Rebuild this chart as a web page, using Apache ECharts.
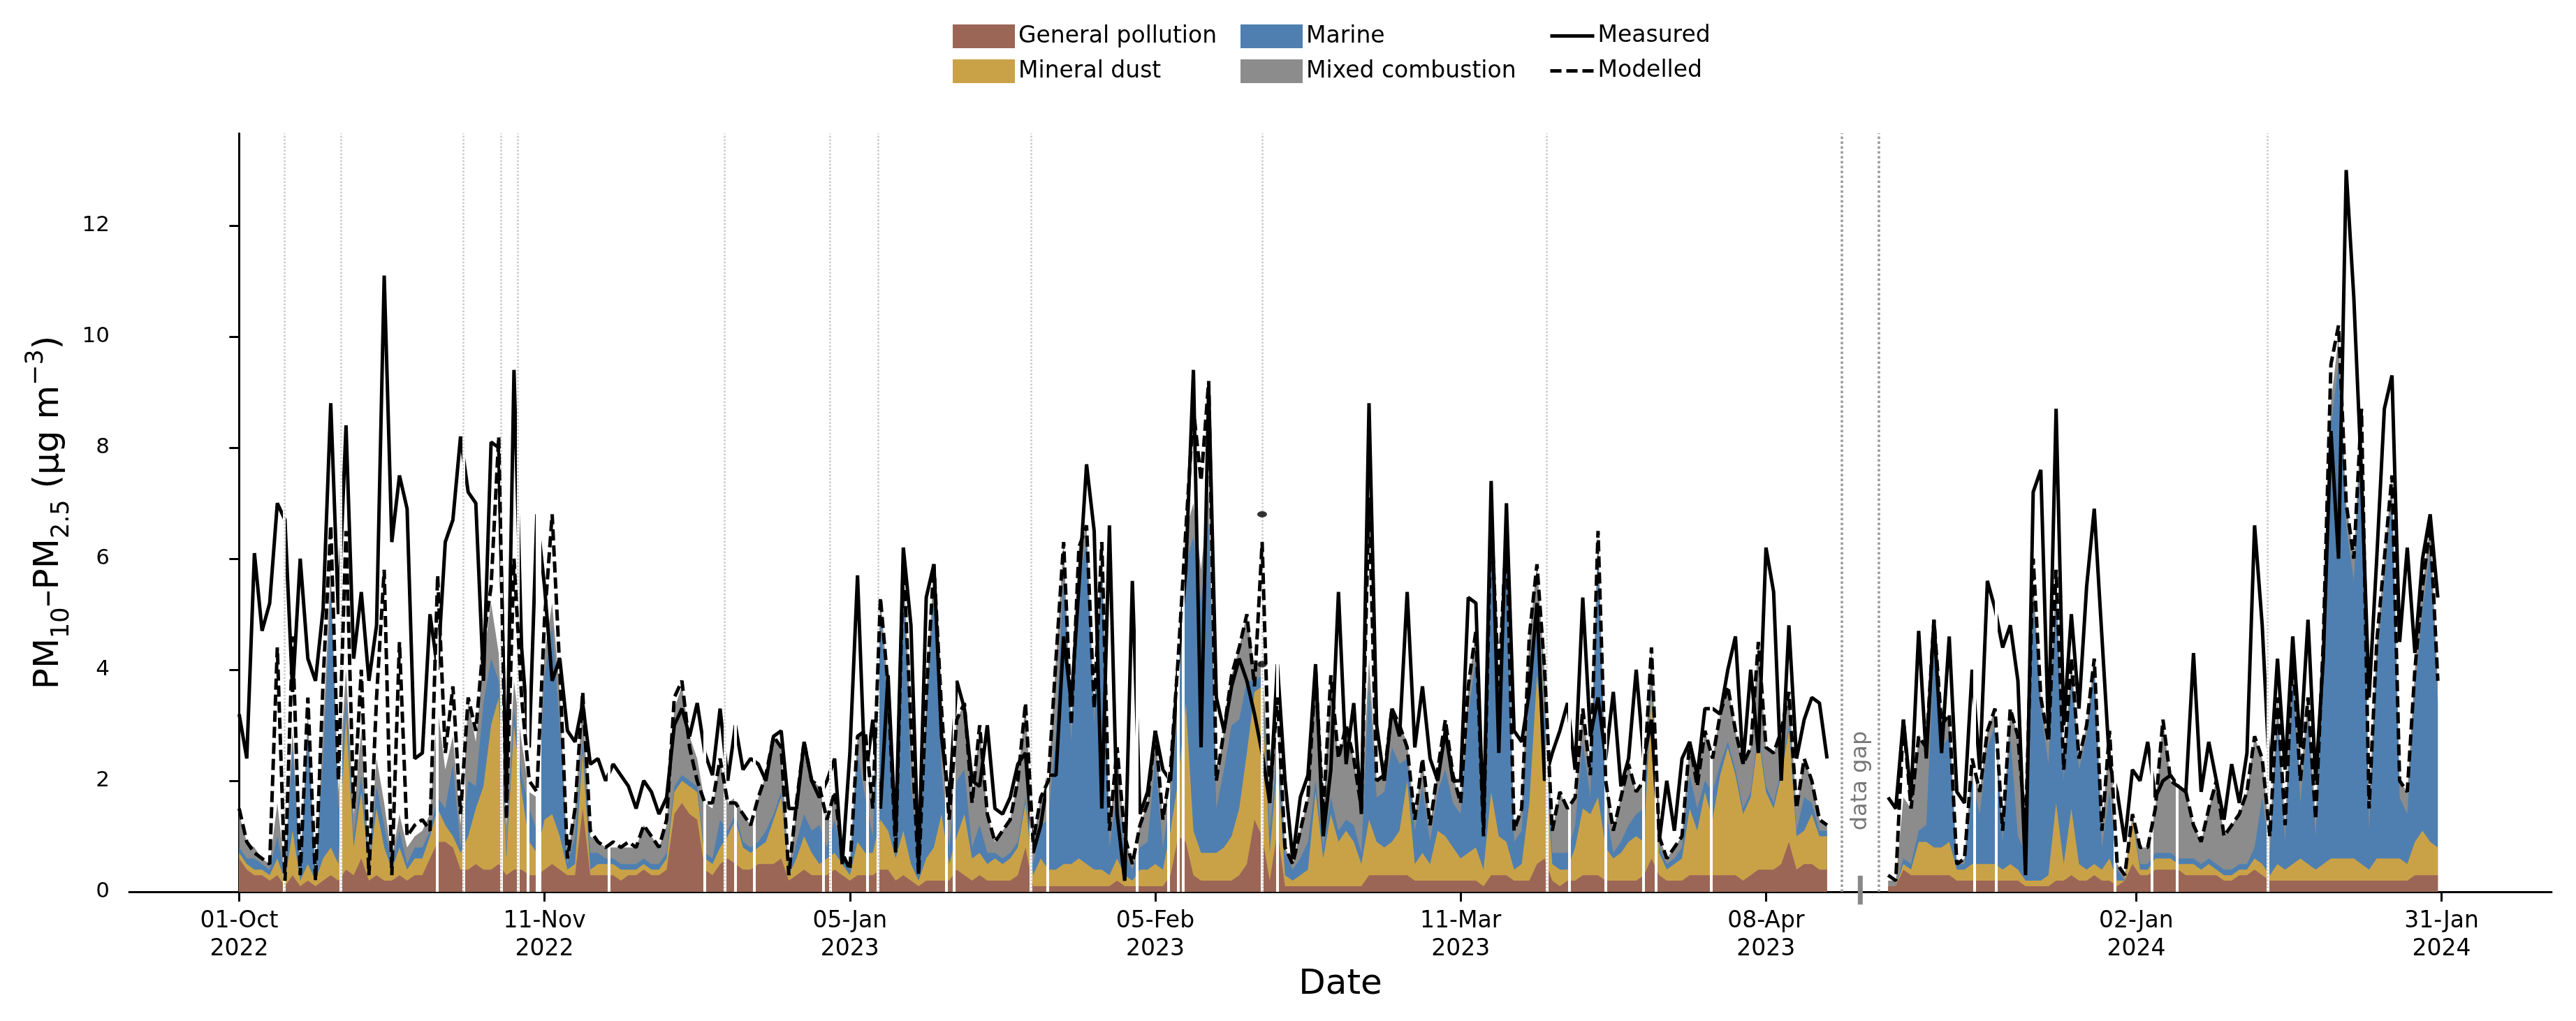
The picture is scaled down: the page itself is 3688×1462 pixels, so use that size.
<!DOCTYPE html>
<html><head><meta charset="utf-8">
<script src="https://cdn.jsdelivr.net/npm/echarts@6/dist/echarts.min.js"></script>
<style>html,body{margin:0;padding:0;background:#fff}#c{width:3688px;height:1462px}</style>
</head><body><div id="c"></div>
<script>
// ---- tick labels (x axis is a sample index with data gaps removed) ----
const tickPositions = [0, 40, 80, 120, 160, 200, 248.5, 288.5];
const tickLabels = ['01-Oct\n2022','11-Nov\n2022','05-Jan\n2023','05-Feb\n2023','11-Mar\n2023','08-Apr\n2023','02-Jan\n2024','31-Jan\n2024'];
const yTicks = [0, 2, 4, 6, 8, 10, 12];

// ---- series values (one value per sample) ----
const measured = [
3.2,2.4,6.1,4.7,5.2,7.0,6.7,3.6,6.0,4.2,
3.8,5.1,8.8,5.0,8.4,4.2,5.4,3.8,4.8,11.1,
6.3,7.5,6.9,2.4,2.5,5.0,4.0,6.3,6.7,8.2,
7.2,7.0,3.8,8.1,8.0,1.6,9.4,4.4,2.6,6.8,
5.5,3.8,4.2,2.9,2.7,3.4,2.3,2.4,2.0,2.3,
2.1,1.9,1.5,2.0,1.8,1.4,1.7,3.0,3.3,2.8,
3.4,2.5,2.1,3.3,2.0,3.0,2.2,2.4,2.3,2.0,
2.8,2.9,1.5,1.5,2.7,2.0,1.7,2.0,2.4,0.5,
2.5,5.7,2.0,3.1,1.5,3.9,1.0,6.2,4.8,0.5,
5.3,5.9,2.8,1.6,3.8,3.3,2.0,1.9,3.0,1.5,
1.4,1.7,2.3,2.5,0.7,1.2,2.1,2.1,4.6,3.4,
5.5,7.7,6.5,1.5,6.6,1.4,0.2,5.6,1.4,1.8,
2.9,2.2,2.0,4.1,5.8,9.4,2.6,9.1,3.5,2.9,
3.7,4.2,3.8,3.2,2.5,1.6,4.1,2.0,0.6,1.7,
2.1,4.1,1.0,2.2,5.4,2.3,3.4,1.4,8.8,3.0,
2.0,3.3,2.8,5.4,2.6,3.7,2.4,2.0,2.9,2.0,
2.0,5.3,5.2,1.2,7.4,2.5,7.0,2.9,2.7,3.6,
5.2,2.0,2.5,2.9,3.4,2.2,5.3,2.8,3.5,2.4,
3.6,1.9,2.4,4.0,2.4,3.1,0.9,2.0,1.1,2.4,
2.7,2.1,3.3,3.3,3.2,4.0,4.6,2.3,4.0,2.5,
6.2,5.4,2.0,4.8,2.4,3.1,3.5,3.4,2.4,null,
null,null,null,null,null,null,1.7,1.5,3.1,1.7,
4.7,2.4,4.9,2.5,4.6,1.8,1.6,4.0,2.2,5.6,
5.1,4.4,4.8,3.8,0.3,7.2,7.6,2.8,8.7,3.0,
5.0,3.3,5.5,6.9,4.6,2.3,1.8,0.9,2.2,2.0,
2.7,1.7,2.0,2.1,1.9,1.8,4.3,1.8,2.7,2.0,
1.3,2.3,1.6,2.5,6.6,4.8,2.0,4.2,2.2,4.6,
2.6,4.9,2.0,4.2,8.3,6.0,13.0,10.7,7.5,3.5,
6.0,8.7,9.3,4.5,6.2,4.3,6.0,6.8,5.3];

const modelled = [
1.5,0.9,0.7,0.6,0.5,4.4,0.2,4.6,0.3,3.5,
0.2,3.8,6.6,2.0,6.5,1.5,4.0,0.3,3.5,5.8,
0.3,4.5,1.0,1.2,1.3,1.1,5.7,2.5,3.7,1.4,
3.5,2.9,4.5,5.5,8.2,1.3,6.0,3.5,2.0,1.8,
4.9,6.8,4.0,0.6,1.5,3.6,1.1,0.9,0.8,0.9,
0.8,0.9,0.8,1.2,1.0,0.8,1.3,3.5,3.8,2.6,
2.0,1.6,1.6,2.4,1.6,1.6,1.4,1.2,1.7,2.1,
2.8,2.6,0.3,1.6,2.7,2.0,1.9,1.3,1.8,0.7,
0.4,2.8,2.9,1.5,5.3,3.7,0.7,6.0,3.0,0.3,
3.5,5.9,3.3,1.3,3.1,3.4,1.6,3.0,1.4,0.9,
1.1,1.3,2.0,3.4,0.9,1.7,2.0,4.2,6.3,3.0,
6.2,6.6,3.3,6.3,1.1,2.6,1.0,0.5,1.2,1.6,
2.9,1.3,2.2,4.2,6.5,8.7,7.4,9.2,2.0,2.9,
3.9,4.4,5.0,3.7,6.3,1.7,3.5,0.8,0.5,1.1,
1.7,4.0,1.4,3.9,2.4,3.0,2.4,1.5,7.1,2.0,
2.1,3.3,3.0,2.6,1.3,2.4,1.2,2.2,3.1,2.1,
1.6,3.7,4.7,1.0,6.8,3.7,6.5,1.1,1.5,4.6,
5.9,4.0,1.1,1.8,1.5,1.7,3.3,2.1,6.5,2.0,
1.1,1.7,2.3,1.8,2.0,4.4,1.0,0.6,0.8,1.0,
2.7,1.9,2.9,2.4,3.2,3.7,2.9,2.3,2.6,4.5,
2.6,2.5,2.9,3.6,1.5,2.4,2.0,1.3,1.2,null,
null,null,null,null,null,null,0.3,0.2,3.1,1.5,
2.8,2.6,4.9,3.0,3.2,0.5,0.6,2.4,1.8,2.9,
3.3,1.1,3.3,2.8,1.1,6.0,3.5,2.7,5.8,2.2,
4.2,2.4,3.0,4.2,1.1,2.9,0.5,0.3,1.4,0.8,
0.8,1.5,3.1,2.0,1.9,1.8,1.2,0.9,1.5,2.0,
1.0,1.2,1.4,1.8,2.8,2.4,1.0,3.5,1.2,4.3,
2.0,3.5,1.3,4.5,9.5,10.2,7.0,6.0,8.7,1.5,
4.5,6.0,7.5,2.0,1.8,4.0,5.5,6.6,3.8];

const generalPollution = [
.6,.4,.3,.3,.2,.3,.1,.3,.1,.2,
.1,.2,.3,.2,.4,.3,.6,.2,.3,.2,
.2,.3,.2,.3,.3,.6,.9,.9,.8,.4,
.4,.5,.4,.4,.5,.3,.4,.4,.3,.3,
.4,.5,.4,.3,.3,1.5,.3,.3,.3,.3,
.2,.3,.3,.4,.3,.3,.4,1.4,1.6,1.4,
1.3,.4,.3,.5,.6,.5,.4,.4,.5,.5,
.5,.6,.2,.3,.4,.3,.3,.3,.4,.3,
.2,.3,.3,.3,.4,.4,.2,.3,.2,.1,
.2,.2,.2,.2,.4,.3,.2,.3,.2,.2,
.2,.2,.3,.8,.1,.1,.1,.1,.1,.1,
.1,.1,.1,.1,.1,.2,.1,.1,.1,.1,
.1,.1,.3,1.0,.9,.3,.2,.2,.2,.2,
.2,.3,.5,1.3,1.0,.2,1.1,.1,.1,.1,
.1,.1,.1,.1,.1,.1,.1,.1,.3,.3,
.3,.3,.3,.3,.2,.2,.2,.2,.2,.2,
.2,.2,.2,.1,.3,.3,.3,.2,.2,.2,
.5,.6,.2,.1,.2,.2,.3,.3,.3,.2,
.2,.2,.2,.2,.3,.6,.3,.2,.2,.2,
.3,.3,.3,.3,.3,.3,.3,.2,.3,.4,
.4,.4,.5,.9,.4,.5,.5,.4,.4,null,
null,null,null,null,null,null,.1,.1,.4,.3,
.3,.3,.3,.3,.3,.2,.2,.2,.2,.2,
.2,.2,.2,.2,.1,.1,.1,.1,.2,.2,
.3,.2,.2,.3,.2,.2,.1,.2,.5,.3,
.3,.4,.4,.4,.4,.3,.3,.3,.3,.3,
.2,.2,.3,.3,.4,.3,.2,.2,.2,.2,
.2,.2,.2,.2,.2,.2,.2,.2,.2,.2,
.2,.2,.2,.2,.2,.3,.3,.3,.3];

const mineralDust = [
.1,.1,.1,.1,.1,.3,.1,.8,.1,.3,
.1,.4,.5,.3,2.8,.5,1.2,.2,1.2,.6,
.2,.5,.2,.3,.3,.4,.6,.3,.2,.3,
.6,1.0,1.5,2.6,3.0,.3,2.6,1.4,.6,.4,
.9,.9,.6,.1,.2,1.0,.1,.2,.2,.2,
.2,.1,.1,.1,.1,.1,.2,.4,.4,.5,
.5,.2,.2,.3,.4,.8,.4,.3,.3,.4,
.8,1.1,.1,.3,.6,.4,.2,.3,.3,.2,
.1,.6,.4,.4,.9,.7,.4,.8,.3,.1,
.4,.6,1.2,.3,.6,1.1,.4,.4,.3,.4,
.3,.4,.5,.8,.2,.5,.3,.3,.4,.4,
.5,.4,.3,.3,.2,.4,.2,.1,.3,.3,
.4,.3,.8,1.0,2.5,.8,.5,.5,.5,.6,
.8,1.2,2.0,2.3,2.7,.5,1.2,.2,.1,.2,
.3,1.7,.5,1.3,.8,1.0,.8,.4,1.0,.6,
.5,.6,.8,1.7,.3,.5,.3,.9,.8,.6,
.4,.5,.6,.3,1.5,.7,.6,.2,.3,1.4,
3.4,2.0,.3,.3,.2,.6,1.2,1.1,1.4,.6,
.4,.5,.7,.8,.6,3.0,.4,.2,.3,.4,
1.2,.8,1.5,1.0,1.8,2.3,1.8,1.2,1.4,2.4,
1.4,1.1,1.6,2.0,.6,.6,.9,.6,.6,null,
null,null,null,null,null,null,0,0,.1,.1,
.6,.6,.5,.5,.6,.2,.2,.3,.3,.3,
.3,.2,.3,.2,.1,.1,.1,.2,1.4,.3,
1.2,.3,.2,.2,.2,.4,.1,0,.8,.1,
.1,.2,.2,.2,.1,.2,.2,.1,.2,.1,
.1,.1,.1,.1,.2,.2,.1,.3,.2,.3,
.4,.3,.2,.3,.4,.4,.4,.4,.3,.2,
.4,.4,.4,.4,.3,.6,.8,.6,.5];

const marine = [
.1,.1,.2,.1,.1,.4,.1,1.5,.2,2.3,
.1,1.8,4.6,1.0,.3,.2,.3,.1,.4,.4,
.1,.3,.1,.2,.2,.1,.2,.3,1.3,.1,
1.0,.4,1.5,1.2,.3,.1,.3,.3,.6,.4,
2.6,3.4,2.0,.1,.5,.2,.3,.2,.1,.1,
.1,.1,.1,.1,.1,.1,.1,.1,.1,.1,
.1,.1,.1,.5,.1,.1,.1,.1,.1,.2,
.1,.1,0,.3,.4,.4,.7,.2,.6,.1,
.1,1.6,1.0,.3,3.6,2.2,.1,4.5,1.5,.1,
2.5,4.6,.8,.3,1.0,.8,.2,.5,.2,.1,
.1,.1,.1,.1,.2,.6,.9,2.5,5.2,2.2,
5.0,5.8,2.6,5.5,.5,1.2,.4,.2,.4,.5,
1.9,.4,.6,1.2,2.5,5.3,4.5,6.0,.8,1.4,
2.0,1.6,1.3,.2,.2,.4,.2,.4,.2,.3,
.5,.2,.2,.3,.2,.2,.3,.2,2.4,.8,
1.0,1.7,1.2,.4,.6,1.2,.4,.7,1.2,.8,
.8,2.5,3.4,.5,4.5,2.3,5.1,.5,.6,2.0,
.8,.6,.2,.3,.3,.4,1.2,.3,4.4,.7,
.1,.2,.3,.4,.6,.1,.1,.1,.1,.2,
.6,.4,.2,.5,.2,.1,.1,.1,.1,.1,
.1,.1,.1,.1,.1,.6,.2,.1,.1,null,
null,null,null,null,null,null,0,0,.1,.1,
.2,.3,3.5,1.8,1.9,.1,.1,1.5,.9,2.1,
2.5,.5,2.3,.6,.5,5.0,3.1,2.0,3.8,1.5,
2.4,1.7,2.4,3.5,.4,1.2,.2,0,0,.1,
.1,.1,.1,.1,.1,.1,.1,.1,.1,.1,
.1,.1,.1,.1,.2,1.2,.4,2.6,.5,3.4,
1.0,2.6,.6,3.6,7.8,8.9,6.0,5.0,7.8,.7,
3.5,5.0,6.5,1.1,.9,2.7,4.0,5.2,2.6];

const mixedCombustion = [
.6,.3,.2,.1,.1,.6,.1,.3,0,.4,
0,.5,.4,.3,.5,.4,.8,.1,.5,.4,
.1,.3,.3,.2,.3,.3,1.6,.7,.5,.4,
1.4,.8,.8,1.0,.5,.5,.5,.6,.3,.6,
.4,.4,.6,.1,.5,.7,.3,.2,.2,.2,
.3,.3,.3,.6,.5,.3,.5,1.4,1.6,.8,
.5,.9,.9,1.1,.5,.3,.5,.4,.8,1.0,
1.4,.8,.1,.6,1.3,.9,.7,.5,.5,.1,
.1,.3,1.2,.5,.4,.4,0,.4,1.0,0,
.4,.5,1.1,.5,1.1,1.2,.8,1.8,.7,.2,
.5,.6,1.1,1.7,.4,.5,.7,1.3,.6,.3,
.6,.3,.3,.4,.3,.8,.3,.1,.4,.7,
.5,.5,.5,1.0,.6,.6,.6,.5,.5,.7,
.9,1.3,1.2,.2,.3,.6,1.0,.1,.1,.5,
.8,2.0,.6,2.2,1.3,1.7,1.2,.8,.5,.3,
.3,.7,.7,.3,.2,.5,.3,.4,.9,.5,
.2,.5,.5,.1,.5,.4,.5,.2,.4,1.0,
1.2,.8,.4,1.1,.8,.5,.6,.4,.4,.5,
.4,.8,1.1,.4,.5,.7,.2,.1,.2,.2,
.6,.4,.9,.6,.9,1.0,.7,.8,.8,1.6,
.7,.9,.7,.6,.4,.7,.4,.2,.1,null,
null,null,null,null,null,null,.1,.1,1.1,1.0,
1.7,1.4,.6,.4,.4,0,.1,.4,.4,.3,
.3,.2,.5,1.8,.4,.4,.2,.4,.4,.2,
.3,.2,.2,.2,.3,1.1,.1,.1,.1,.3,
.3,.8,2.4,1.3,1.3,1.2,.6,.4,.9,1.5,
.6,.8,.9,1.3,2.0,.7,.3,.4,.3,.4,
.4,.4,.3,.4,.4,.5,.4,.4,.4,.4,
.4,.4,.4,.3,.4,.4,.4,.5,.4];

// isolated measured points (sample index, value)
const isolatedX = [134, 134];
const isolatedY = [6.8, 4.1];
// segment boundaries (sample index) drawn as light dotted lines
const segmentBreaks = [5.9, 13.3, 29.4, 34.3, 36.5, 63.6, 77.4, 83.7, 103.7, 134.0, 171.3, 265.7];
// missing samples inside the stacked contributions (white slivers)
const stackGaps = [25.9, 37.8, 39.0, 39.4, 48.4, 61.0, 65.0, 67.5, 76.5, 82.3, 92.6, 93.6, 105.9, 117.6, 121.7, 123.0, 123.6, 136.0, 174.2, 179.0, 183.9, 185.6, 192.8, 227.3, 230.1, 245.7, 250.5, 253.8];
// bounds of the long data gap
const gapBounds = [209.9, 214.8];

const N = measured.length;
[modelled, generalPollution, mineralDust, marine, mixedCombustion].forEach((a, k) => {
  if (a.length !== N) throw new Error('length mismatch in array ' + k + ': ' + a.length + ' vs ' + N);
});

const FONT = 'DejaVu Sans';
const LW = 5;
const DASH = [16, 7];
const toXY = arr => arr.map((v, i) => [i, v]);
const comps = [
  ['General pollution', generalPollution, '#9b6656'],
  ['Mineral dust', mineralDust, '#c9a248'],
  ['Marine', marine, '#4e7fb0'],
  ['Mixed combustion', mixedCombustion, '#8c8c8c']
];
// cumulative tops of the stacked contributions (stack order: bottom -> top)
const cumulative = [];
comps.forEach(([, arr], k) => {
  cumulative.push(arr.map((v, i) => v == null ? null : (k ? cumulative[k - 1][i] : 0) + v));
});

const series = [];
// draw the highest band first, each filled down to zero, so the lower ones sit on top
for (let k = comps.length - 1; k >= 0; k--) {
  const [name, , color] = comps[k];
  series.push({
    name, type: 'line', data: toXY(cumulative[k].map(v => v == null ? null : +v.toFixed(3))),
    symbol: 'none', silent: true, z: 1,
    lineStyle: { width: 0, color }, itemStyle: { color }, areaStyle: { color, opacity: 1, origin: 'start' }
  });
}
series.push({
  type: 'line', data: [], z: 2, silent: true,
  markLine: { silent: true, symbol: ['none', 'none'], label: { show: false }, animation: false,
    lineStyle: { color: '#ffffff', width: 4, type: 'solid' },
    data: stackGaps.concat(segmentBreaks).map(x => ({ xAxis: x })) }
});
series.push({
  type: 'line', data: [], z: 3, silent: true,
  markLine: { silent: true, symbol: ['none', 'none'], label: { show: false }, animation: false,
    data: segmentBreaks.map(x => ({ xAxis: x, lineStyle: { color: '#c8c8c8', width: 2.5, type: 'dotted' } }))
      .concat(gapBounds.map(x => ({ xAxis: x, lineStyle: { color: '#9a9a9a', width: 3.5, type: 'dotted' } }))) }
});
series.push({
  name: 'Measured', type: 'line', data: toXY(measured), symbol: 'none', z: 4,
  lineStyle: { color: '#000', width: LW }, itemStyle: { color: '#000' }
});
series.push({
  name: 'Modelled', type: 'line', data: toXY(modelled), symbol: 'none', z: 5,
  lineStyle: { color: '#000', width: LW, type: DASH }, itemStyle: { color: '#000' }
});
series.push({
  name: 'Measured points', type: 'scatter', data: isolatedX.map((x, i) => [x, isolatedY[i]]),
  symbol: 'circle', symbolSize: [14, 9], itemStyle: { color: '#000' }, z: 5
});

const legBase = { orient: 'horizontal', padding: 0, itemGap: 0, selectedMode: false,
  textStyle: { fontSize: 33, color: '#000', fontFamily: FONT } };
const hiddenSymbol = { color: 'rgba(0,0,0,0)', borderWidth: 0, opacity: 0 };
const legends = [
  { left: 1364, top: 35, itemWidth: 89, itemHeight: 34, data: [{ name: 'General pollution', icon: 'rect' }] },
  { left: 1364, top: 85, itemWidth: 89, itemHeight: 34, data: [{ name: 'Mineral dust', icon: 'rect' }] },
  { left: 1776, top: 35, itemWidth: 89, itemHeight: 34, data: [{ name: 'Marine', icon: 'rect' }] },
  { left: 1776, top: 85, itemWidth: 89, itemHeight: 34, data: [{ name: 'Mixed combustion', icon: 'rect' }] },
  { left: 2217, top: 35, itemWidth: 63, itemHeight: 34, data: [{ name: 'Measured' }],
    itemStyle: hiddenSymbol, lineStyle: { color: '#000', width: LW, type: 'solid', opacity: 1 } },
  { left: 2217, top: 85, itemWidth: 63, itemHeight: 34, data: [{ name: 'Modelled' }],
    itemStyle: hiddenSymbol, lineStyle: { color: '#000', width: LW, type: DASH, opacity: 1 } }
].map(l => Object.assign({}, legBase, l));

const axisLineStyle = { color: '#000', width: 3 };
const chart = echarts.init(document.getElementById('c'), null, { renderer: 'canvas' });
chart.setOption({
  animation: false,
  backgroundColor: '#fff',
  textStyle: { fontFamily: FONT },
  legend: legends,
  grid: { left: 185, right: 35, top: 191, bottom: 185, containLabel: false },
  xAxis: {
    type: 'value', min: -14.4, max: 302.9,
    axisLine: { show: true, onZero: false, lineStyle: axisLineStyle },
    axisTick: { show: true, customValues: tickPositions, length: 14, lineStyle: axisLineStyle },
    axisLabel: { customValues: tickPositions, fontSize: 33, lineHeight: 40, margin: 22, color: '#000', fontFamily: FONT,
      formatter: v => { const k = tickPositions.findIndex(t => Math.abs(t - v) < 1e-6); return k >= 0 ? tickLabels[k] : ''; } },
    splitLine: { show: false },
    name: 'Date', nameLocation: 'middle', nameGap: 108,
    nameTextStyle: { fontSize: 50, color: '#000', fontFamily: FONT }
  },
  yAxis: {
    type: 'value', min: 0, max: 13.66,
    axisLine: { show: true, lineStyle: axisLineStyle },
    axisTick: { show: true, customValues: yTicks, length: 14, lineStyle: axisLineStyle },
    axisLabel: { customValues: yTicks, fontSize: 31, margin: 28, color: '#000', fontFamily: FONT },
    splitLine: { show: false },
    name: '{m|PM}{s|10}{m|–PM}{s|2.5}{m| (μg m}{p|−3}{m|)}',
    nameLocation: 'middle', nameRotate: 90, nameGap: 79,
    nameTextStyle: {
      color: '#000', fontFamily: FONT,
      rich: {
        m: { fontSize: 50, lineHeight: 72, color: '#000', fontFamily: FONT },
        s: { fontSize: 35, lineHeight: 36, verticalAlign: 'bottom', color: '#000', fontFamily: FONT },
        p: { fontSize: 35, lineHeight: 36, verticalAlign: 'top', color: '#000', fontFamily: FONT }
      }
    }
  },
  series
});

// data-gap annotation, placed through the axes
const gapCenter = (gapBounds[0] + gapBounds[1]) / 2;
const pText = chart.convertToPixel({ gridIndex: 0 }, [gapCenter, 2.0]);
const pTop = chart.convertToPixel({ gridIndex: 0 }, [gapCenter, 0.29]);
const pBot = chart.convertToPixel({ gridIndex: 0 }, [gapCenter, -0.23]);
chart.setOption({
  graphic: [
    { type: 'text', x: pText[0], y: pText[1], rotation: Math.PI / 2, z: 10,
      style: { text: 'data gap', fontSize: 32, fill: '#777', align: 'center', verticalAlign: 'middle', fontFamily: FONT } },
    { type: 'line', z: 10, shape: { x1: pTop[0], y1: pTop[1], x2: pBot[0], y2: pBot[1] },
      style: { stroke: '#888', lineWidth: 7 } }
  ]
});
</script></body></html>
